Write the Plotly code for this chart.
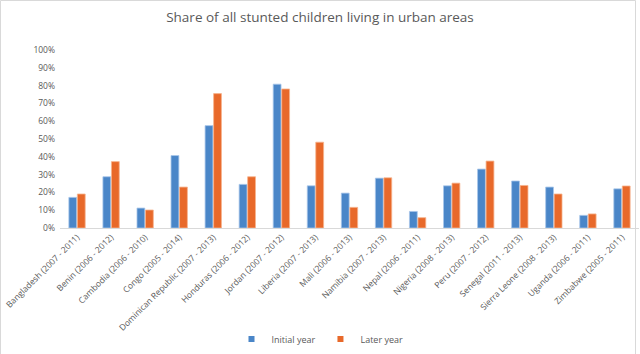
import plotly.graph_objects as go

categories = [
    "Bangladesh (2007 - 2011)", "Benin (2006 - 2012)", "Cambodia (2006 - 2010)",
    "Congo (2005 - 2014)", "Dominican Republic (2007 - 2013)", "Honduras (2006 - 2012)",
    "Jordan (2007 - 2012)", "Liberia (2007 - 2013)", "Mali (2006 - 2013)",
    "Namibia (2007 - 2013)", "Nepal (2006 - 2011)", "Nigeria (2008 - 2013)",
    "Peru (2007 - 2012)", "Senegal (2011 - 2013)", "Sierra Leone (2008 - 2013)",
    "Uganda (2006 - 2011)", "Zimbabwe (2005 - 2011)",
]
initial_year = [0.172, 0.288, 0.112, 0.407, 0.575, 0.245, 0.808, 0.237, 0.196,
                0.280, 0.093, 0.237, 0.331, 0.264, 0.230, 0.071, 0.220]
later_year = [0.191, 0.373, 0.101, 0.230, 0.755, 0.288, 0.781, 0.482, 0.116,
              0.282, 0.058, 0.252, 0.376, 0.239, 0.191, 0.079, 0.236]
series_names = ["Initial year", "Later year"]
y_ticks = [i / 10 for i in range(11)]

BLUE, ORANGE = "#4a86c8", "#e8692a"
W, H = 640, 354
L, R, T, B = 60, 1, 50, 126
pw, ph = W - L - R, H - T - B

fig = go.Figure()
fig.add_trace(go.Bar(x=categories, y=initial_year, name=series_names[0], showlegend=False,
                     legendgroup="a",
                     marker=dict(color=BLUE, line=dict(color="#a8c6ea", width=0.8))))
fig.add_trace(go.Bar(x=categories, y=later_year, name=series_names[1], showlegend=False,
                     legendgroup="b",
                     marker=dict(color=ORANGE, line=dict(color="#f6b48e", width=0.8))))
# legend proxies (small square swatches like the reference)
fig.add_trace(go.Scatter(x=[None], y=[None], mode="markers", name=series_names[0],
                         legendgroup="a",
                         marker=dict(symbol="square", size=6, color=BLUE)))
fig.add_trace(go.Scatter(x=[None], y=[None], mode="markers", name=series_names[1],
                         legendgroup="b",
                         marker=dict(symbol="square", size=6, color=ORANGE)))

fig.update_layout(
    width=W, height=H,
    margin=dict(l=L, r=R, t=T, b=B, autoexpand=False),
    paper_bgcolor="white", plot_bgcolor="white",
    font=dict(family="Open Sans", color="#595959", size=9),
    title=dict(text="Share of all stunted children living in urban areas",
               x=0.5, xref="container", xanchor="center",
               y=1 - 17 / H, yref="container", yanchor="middle",
               font=dict(size=13.5, color="#595959", family="Open Sans")),
    barmode="group", bargap=0.5, bargroupgap=0.08,
    showlegend=True,
    legend=dict(orientation="h", x=0.5, xref="container", xanchor="center",
                y=1 - 339 / H, yref="container", yanchor="middle",
                font=dict(size=9, color="#595959"), itemwidth=30,
                traceorder="normal", tracegroupgap=0, itemclick=False),
    xaxis=dict(tickangle=-45, showline=True, linecolor="#d9d9d9", linewidth=1,
               ticks="", showgrid=False, automargin=False,
               tickfont=dict(size=8.5, color="#595959")),
    yaxis=dict(range=[0, 1], tickvals=y_ticks, tickformat=".0%", showgrid=False,
               zeroline=False, showline=False, ticks="", automargin=False,
               tickfont=dict(size=8.5, color="#595959"), ticklabelstandoff=4),
    shapes=[dict(type="rect", xref="paper", yref="paper",
                 x0=(0.5 - L) / pw, x1=(W - 4.5 - L) / pw,
                 y0=(B - (H - 1.5)) / ph, y1=1 + (T - 0.5) / ph,
                 line=dict(color="#d9d9d9", width=1), fillcolor="rgba(0,0,0,0)")],
)
fig.write_html("out.html")
